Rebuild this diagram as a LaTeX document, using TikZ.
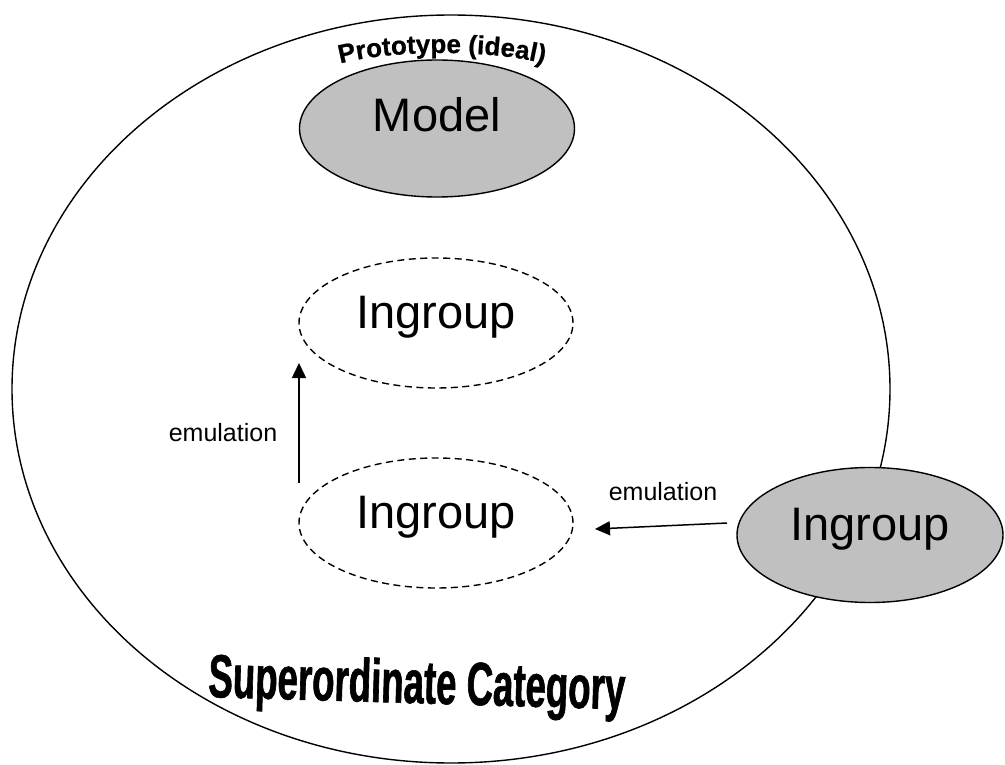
\documentclass[tikz,border=0pt]{standalone}
\usepackage{fontspec}
\setmainfont{Liberation Sans}
\newfontfamily\narrowfont{Liberation Sans}[FakeStretch=0.6, FakeBold=1.0]
\newfontfamily\heavyfont{Liberation Sans}[FakeBold=0.8]
\usetikzlibrary{shapes.geometric, arrows.meta, decorations.text}
\definecolor{ovalgray}{HTML}{C0C0C0}

\begin{document}
\begin{tikzpicture}[x=1pt, y=-1pt,
  every node/.style={inner sep=0pt, outer sep=0pt},
  oval/.style={ellipse, draw, line width=1.4pt, minimum width=274pt, minimum height=130pt},
  solidoval/.style={oval, fill=ovalgray},
  dashoval/.style={oval, dash pattern=on 7pt off 4.5pt},
  bigtext/.style={font=\fontsize{47}{56}\selectfont, anchor=base},
  smalltext/.style={font=\fontsize{25}{30}\selectfont},
  emul/.style={-{Triangle[length=15pt,width=14pt]}, line width=1.5pt}
]
\useasboundingbox (0,0) rectangle (1005,765);

% the superordinate category
\node[ellipse, draw, line width=1.4pt, minimum width=878pt, minimum height=748pt] (cat) at (451,389) {};

% prototype
\node[solidoval, minimum width=275pt, minimum height=137pt] (model) at (437,128.5) {};
\node[bigtext] (modelt) at ([yshift=-3.5pt]model.center) {Model};
\path[decorate, decoration={text along path, text align=center,
  text={|\heavyfont\bfseries\fontsize{26}{30}\selectfont|Prototype (ideal)}}]
  (335,65) .. controls (388,49) and (496,49) .. (549,65);

% ingroups
\node[dashoval] (ing1) at (436,323) {};
\node[bigtext] (ing1t) at ([yshift=-5pt]ing1.center) {Ingroup};
\node[dashoval] (ing2) at (436,523) {};
\node[bigtext] (ing2t) at ([yshift=-5pt]ing2.center) {Ingroup};
\node[solidoval, minimum width=266pt, minimum height=135pt] (ing3) at (870,535) {};
\node[bigtext] (ing3t) at ([yshift=-5pt]ing3.center) {Ingroup};

% emulation arrows
\coordinate (v0) at (299,483);
\coordinate (v1) at (299,363);
\draw[emul] (v0) -- (v1);
\node[smalltext] (lab1) at (223,433) {emulation};
\coordinate (h0) at (727,523);
\coordinate (h1) at (595,529);
\draw[emul] (h0) -- (h1);
\node[smalltext] (lab2) at (663,492) {emulation};

% category title
\node[anchor=base west, rotate=-1.7, font=\narrowfont\bfseries\fontsize{61}{70}\selectfont] (supt) at (208,697) {Superordinate Category};
\end{tikzpicture}
\end{document}
